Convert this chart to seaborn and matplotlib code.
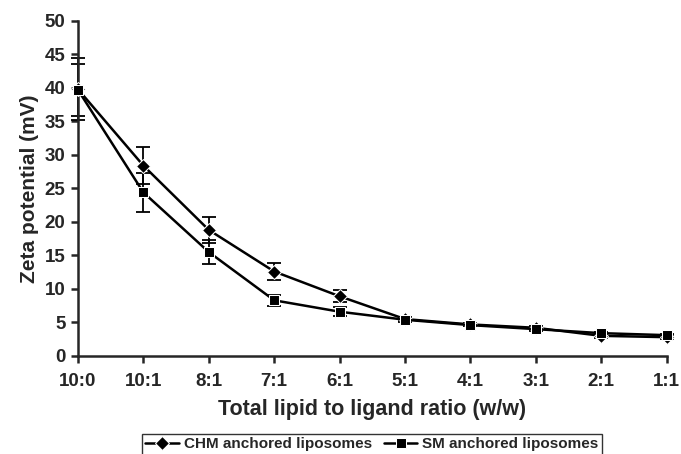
import matplotlib
matplotlib.use('Agg')
import matplotlib.pyplot as plt
import seaborn as sns, numpy as np, pandas as pd

ratios = ['10:0', '10:1', '8:1', '7:1', '6:1', '5:1', '4:1', '3:1', '2:1', '1:1']
chm = [39.8, 28.4, 18.8, 12.6, 8.9, 5.5, 4.7, 4.2, 3.0, 2.8]
chm_err = [4.6, 2.8, 1.9, 1.2, 0.9, 0.3, 0.2, 0.3, 0.3, 0.3]
sm = [39.7, 24.4, 15.5, 8.3, 6.6, 5.4, 4.6, 4.0, 3.4, 3.1]
sm_err = [3.9, 2.9, 1.8, 0.8, 0.7, 0.3, 0.2, 0.3, 0.2, 0.2]
labels = ['CHM anchored liposomes', 'SM anchored liposomes']

sns.set_style('ticks')
plt.rcParams['font.family'] = ['Liberation Sans', 'DejaVu Sans']
plt.rcParams['font.weight'] = 'bold'

df = pd.DataFrame({
    'x': list(range(len(ratios))) * 2,
    'zeta': chm + sm,
    'err': chm_err + sm_err,
    'series': [labels[0]] * len(ratios) + [labels[1]] * len(ratios),
})

fig, ax = plt.subplots(figsize=(6.81, 4.54), dpi=100)
fig.subplots_adjust(left=0.1145, right=0.979, bottom=0.216, top=0.954)

sns.lineplot(data=df, x='x', y='zeta', style='series', markers={labels[0]: 'D', labels[1]: 's'},
             dashes=False, color='black', linewidth=1.8, markersize=7, ax=ax, legend=True,
             clip_on=False, zorder=3)
for s in labels:
    d = df[df.series == s]
    ax.errorbar(d.x, d.zeta, yerr=d.err, fmt='none', ecolor='black', elinewidth=1.3,
                capsize=5, capthick=1.3, clip_on=False)

ax.set_xlim(0, 9)
ax.set_ylim(0, 50)
ax.set_yticks(np.arange(0, 51, 5))
ax.set_xticks(range(len(ratios)))
ax.set_xticklabels(ratios)
ax.tick_params(axis='both', labelsize=13.5, width=1.8, length=5, direction='out')
ax.tick_params(axis='x', pad=7)
ax.tick_params(axis='y', pad=4)
for lab in ax.get_xticklabels() + ax.get_yticklabels():
    lab.set_fontweight('bold')
ax.set_xlabel('Total lipid to ligand ratio (w/w)', fontsize=15.5, fontweight='bold', labelpad=7)
ax.set_ylabel('Zeta potential (mV)', fontsize=15, fontweight='bold', labelpad=4)
sns.despine(ax=ax)
for sp in ['left', 'bottom']:
    ax.spines[sp].set_linewidth(1.8)

h, l = ax.get_legend_handles_labels()
leg = ax.legend(h, l, loc='upper center', bbox_to_anchor=(0.546, 0.045), bbox_transform=fig.transFigure,
                ncol=2, frameon=True, fancybox=False, edgecolor='black', fontsize=11,
                handlelength=2.2, columnspacing=0.8, borderpad=0.25, handletextpad=0.3,
                borderaxespad=0)
leg.get_frame().set_linewidth(1.0)

fig.savefig('out.png', dpi=100)
